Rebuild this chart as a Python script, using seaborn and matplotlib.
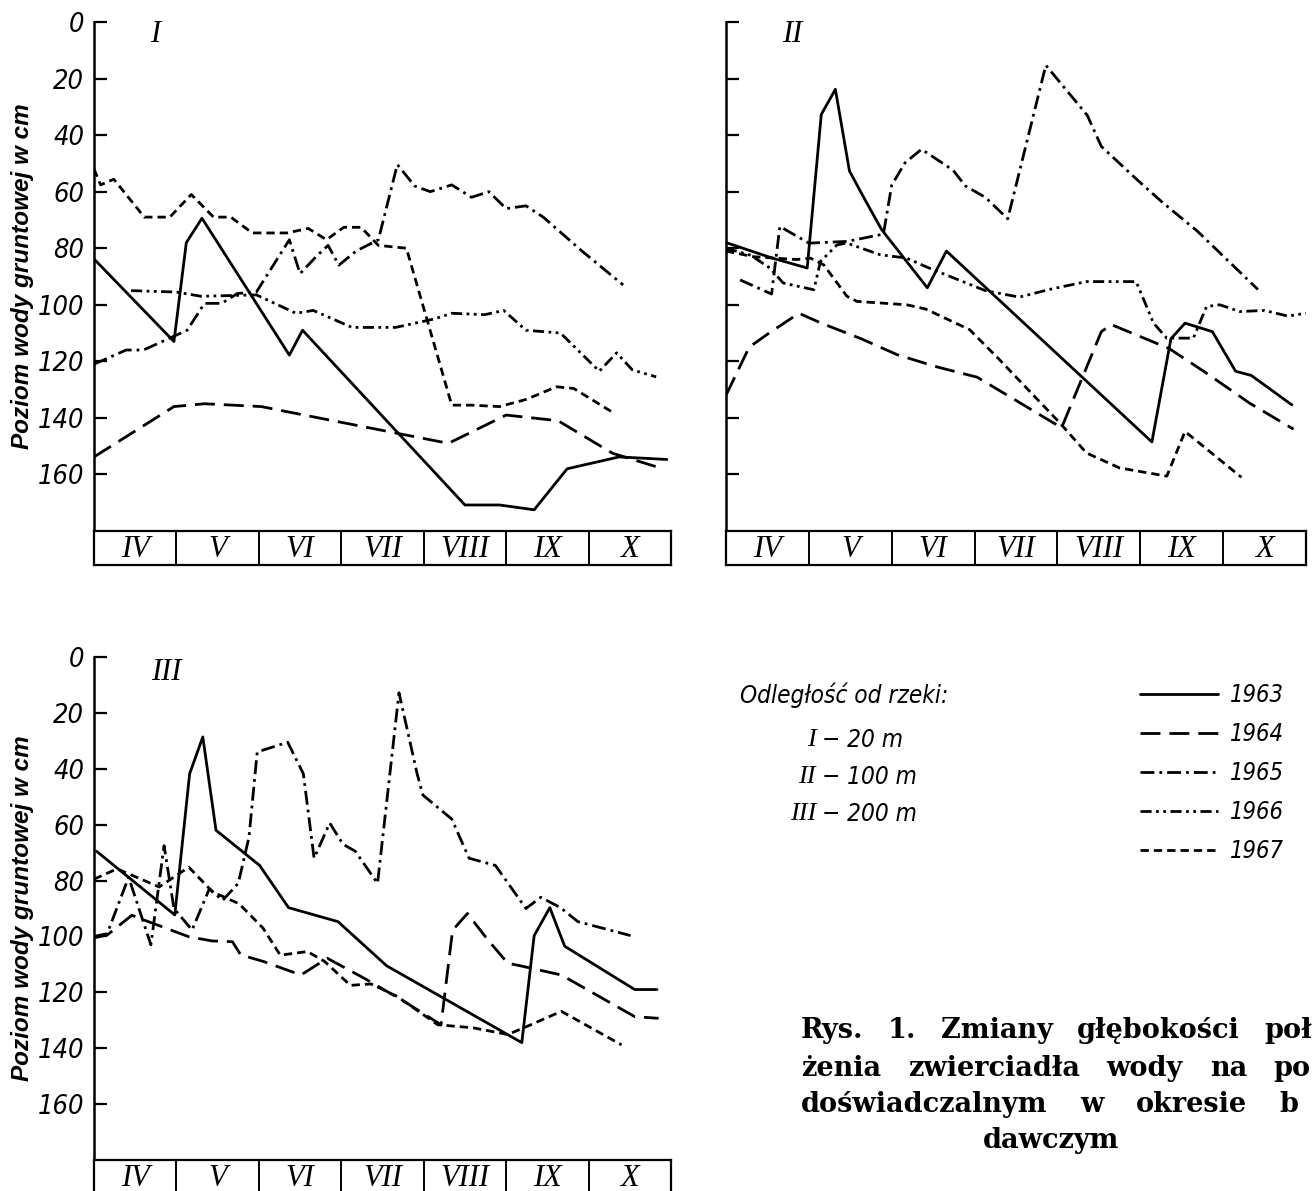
import numpy as np
import pandas as pd
import matplotlib.pyplot as plt
import seaborn as sns
from matplotlib import font_manager

# months on the strip under each panel, years in the legend
months = ["IV", "V", "VI", "VII", "VIII", "IX", "X"]
years = ["1963", "1964", "1965", "1966", "1967"]

# panel I (20 m from river); x = months since 1 April, depth in cm
x_I_1963 = [0, 0.97, 1.12, 1.31, 2.37, 2.53, 4.5, 4.92, 5.34, 5.74, 6.37, 6.95]
d_I_1963 = [83.8, 113, 78, 69.4, 117.8, 109, 170.8, 170.8, 172.5, 158, 153.8, 154.7]
x_I_1964 = [0, 0.97, 1.34, 2.03, 2.55, 3.6, 4.3, 5.0, 5.63, 6.29, 6.87]
d_I_1964 = [153.8, 136, 135, 136, 139, 145, 149, 139, 141, 152.5, 157.7]
x_I_1965 = [0, 0.39, 0.6, 1.13, 1.34, 1.55, 1.74, 1.97, 2.37, 2.5, 2.71, 2.84, 2.97,
            3.18, 3.45, 3.68, 3.89, 4.08, 4.34, 4.58, 4.79, 5.0, 5.24, 5.45, 5.92, 6.42]
d_I_1965 = [121, 116, 116, 109, 99.5, 99.5, 96, 95.5, 77, 89, 82.5, 79, 86,
            81, 77, 50.4, 58, 60, 57.6, 62, 60, 66, 65, 69, 81, 93]
x_I_1966 = [0.45, 1.0, 1.3, 1.97, 2.45, 2.66, 3.13, 3.66, 4.13, 4.34, 4.74, 4.97,
            5.24, 5.66, 6.13, 6.34, 6.53, 6.82]
d_I_1966 = [95, 95.5, 97, 96.5, 103, 102, 108, 108, 105, 103, 103.5, 102,
            109, 110, 123.5, 117, 123, 125.5]
x_I_1967 = [0, 0.08, 0.24, 0.61, 0.92, 1.18, 1.45, 1.66, 1.92, 2.34, 2.6, 2.82, 3.03,
            3.24, 3.45, 3.79, 4.34, 4.58, 4.92, 5.24, 5.61, 5.82, 6.29]
d_I_1967 = [52, 57.6, 55.6, 69, 69, 61, 69, 69, 74.6, 74.6, 73, 77, 72.6,
            72.6, 79, 80, 135.5, 135.5, 136, 133.5, 129, 129.6, 138]

# panel II (100 m)
x_II_1963 = [0, 0.56, 0.98, 1.15, 1.32, 1.49, 1.68, 1.88, 2.43, 2.66, 5.14, 5.37,
             5.54, 5.87, 6.15, 6.34, 6.83]
d_II_1963 = [78, 83.5, 87, 32.7, 23.8, 52.7, 63, 73.5, 94, 81, 148.5, 112,
             106.5, 109.5, 123.5, 125, 135.4]
x_II_1964 = [0, 0.28, 0.52, 0.88, 1.15, 1.63, 2.07, 2.55, 3.03, 3.51, 4.05, 4.53,
             4.65, 5.35, 5.79, 6.32, 6.85]
d_II_1964 = [132, 115, 110, 103, 106.5, 112, 117.7, 122, 125.6, 134, 143.5, 109.5,
             107, 115.5, 124, 134.8, 144]
x_II_1965 = [0.17, 0.55, 0.65, 1.0, 1.46, 1.9, 2.0, 2.16, 2.36, 2.74, 2.89, 3.13,
             3.4, 3.86, 4.36, 4.53, 4.97, 5.26, 5.69, 6.42]
d_II_1965 = [91.2, 96.2, 72.3, 78.2, 77.6, 75, 57.7, 49.8, 45, 52.4, 58, 62,
             69.6, 15.3, 33, 44, 56, 63.6, 74, 94.6]
x_II_1966 = [0, 0.3, 0.53, 0.69, 1.06, 1.14, 1.34, 1.46, 1.86, 2.18, 2.45, 3.13,
             3.54, 3.9, 4.35, 4.95, 5.16, 5.32, 5.64, 5.8, 5.96, 6.2, 6.5, 6.78, 7.0]
d_II_1966 = [80, 82.5, 87, 92.3, 94.7, 84.7, 78.8, 78.2, 82.3, 83.5, 87, 95,
             97.3, 94.6, 91.8, 91.8, 106.5, 111.8, 111.8, 100.6, 100, 102.4, 102, 104, 103]
x_II_1967 = [0, 0.33, 0.85, 1.02, 1.18, 1.46, 1.58, 2.18, 2.41, 2.94, 3.3, 4.03,
             4.35, 4.75, 5.32, 5.54, 6.22]
d_II_1967 = [81, 83, 84, 83.5, 85.9, 97, 98.8, 100, 101.5, 108.8, 119.4, 141.8,
             152.4, 157.7, 160.6, 144.8, 161]

# panel III (200 m) - no 1966 line drawn
x_III_1963 = [0.03, 0.98, 1.16, 1.32, 1.48, 2.01, 2.36, 2.96, 3.55, 5.19, 5.34,
              5.53, 5.71, 6.56, 6.83]
d_III_1963 = [69.5, 92.3, 41.8, 28.6, 62, 74.6, 89.7, 94.7, 110.5, 138, 99.7,
              89.7, 103.5, 119, 119]
x_III_1964 = [0, 0.16, 0.46, 0.56, 1.15, 1.43, 1.68, 1.78, 2.06, 2.51, 2.83, 3.28,
              3.76, 4.21, 4.35, 4.53, 4.78, 5.02, 5.14, 5.67, 6.56, 6.85]
d_III_1964 = [100.5, 99.5, 92.4, 93.6, 100.1, 101.6, 101.9, 106.6, 109, 113.8, 107.8, 115,
              123.2, 131.6, 97.8, 91.8, 101.3, 109.6, 110.3, 113.8, 128.7, 129.3]
x_III_1965 = [0, 0.16, 0.42, 0.69, 0.85, 0.97, 1.19, 1.4, 1.56, 1.75, 1.88, 1.98,
              2.35, 2.54, 2.67, 2.86, 3.02, 3.17, 3.44, 3.7, 3.92, 3.99, 4.34,
              4.55, 4.87, 5.24, 5.42, 5.66, 5.87, 6.51]
d_III_1965 = [100, 99, 78.8, 103, 67.5, 90, 97.7, 82.9, 87.1, 81, 64.5, 34,
              30.5, 41.8, 72, 59.4, 67, 69.5, 81, 12.8, 41.8, 49.4, 58,
              72, 74.6, 90, 86, 89.7, 94.7, 99.7]
x_III_1967 = [0, 0.28, 0.79, 1.15, 1.44, 1.76, 2.05, 2.26, 2.59, 2.8, 3.11, 3.36,
              3.68, 4.17, 4.6, 5.02, 5.26, 5.67, 6.4]
d_III_1967 = [79.5, 75.8, 82.3, 75.2, 84.1, 88.3, 97, 106.7, 105.4, 109, 117.5, 117,
              121.5, 131.6, 132.7, 135.1, 132.1, 126.8, 138.8]

series = {
    "I": {"1963": (x_I_1963, d_I_1963), "1964": (x_I_1964, d_I_1964),
          "1965": (x_I_1965, d_I_1965), "1966": (x_I_1966, d_I_1966),
          "1967": (x_I_1967, d_I_1967)},
    "II": {"1963": (x_II_1963, d_II_1963), "1964": (x_II_1964, d_II_1964),
           "1965": (x_II_1965, d_II_1965), "1966": (x_II_1966, d_II_1966),
           "1967": (x_II_1967, d_II_1967)},
    "III": {"1963": (x_III_1963, d_III_1963), "1964": (x_III_1964, d_III_1964),
            "1965": (x_III_1965, d_III_1965), "1967": (x_III_1967, d_III_1967)},
}

rows = []
for panel, by_year in series.items():
    for year, (xs, ds) in by_year.items():
        for x, d in zip(xs, ds):
            rows.append((panel, year, x, d))
df = pd.DataFrame(rows, columns=["panel", "year", "month", "depth"])

dash_map = {"1963": "", "1964": (7.2, 3.2), "1965": (5, 1.8, 1, 1.8),
            "1966": (4, 1.6, 1, 1.6, 1, 1.6), "1967": (3, 1.8)}

sns.set_theme(style="white")
plt.rcParams.update({"text.color": "black", "axes.labelcolor": "black",
                     "xtick.color": "black", "ytick.color": "black",
                     "axes.edgecolor": "black"})
names = {f.name for f in font_manager.fontManager.ttflist}
if "Liberation Sans Narrow" in names:
    narrow = dict(family="Liberation Sans Narrow", style="italic")
else:
    narrow = dict(family="DejaVu Sans", style="italic", stretch="condensed")
serif_it = dict(family="Liberation Serif", style="italic")

W, H = 1314, 1191
fig = plt.figure(figsize=(W / 100, H / 100), dpi=100)
fig.patch.set_facecolor("white")


def px(x0, y0, x1, y1):
    # pixel box -> figure fraction rect
    return [x0 / W, 1 - y1 / H, (x1 - x0) / W, (y1 - y0) / H]


layout = {"I": (94, 22, 671, 531), "II": (726, 22, 1306, 531), "III": (94, 657, 671, 1160)}
label_pos = {"I": (155, 34), "II": (792, 34), "III": (166, 672)}

axes = {}
for panel, (x0, y0, x1, y1) in layout.items():
    ax = fig.add_axes(px(x0, y0, x1, y1))
    sub = df[df["panel"] == panel]
    sns.lineplot(data=sub, x="month", y="depth", style="year", style_order=years,
                 dashes=dash_map, color="black", lw=2.0, estimator=None, sort=False,
                 legend=(panel == "I"), ax=ax)
    ax.set_xlim(0, 7)
    ax.set_ylim(180, 0)
    ax.set_yticks(np.arange(0, 161, 20))
    ax.set_xticks([])
    ax.set_xlabel("")
    ax.set_ylabel("")
    for s in ["top", "right", "bottom"]:
        ax.spines[s].set_visible(False)
    ax.spines["left"].set_linewidth(1.8)
    ax.tick_params(axis="y", left=True, direction="in", length=9, width=1.6,
                   pad=7, labelleft=(panel != "II"))
    for t in ax.get_yticklabels():
        t.set_fontproperties(font_manager.FontProperties(size=19.5, **narrow))
    ax.patch.set_alpha(0)
    axes[panel] = ax

    # month strip
    sx = fig.add_axes(px(x0, y1, x1, y1 + 34))
    sx.set_xlim(0, 7)
    sx.set_ylim(0, 1)
    sx.set_xticks([])
    sx.set_yticks([])
    for s in sx.spines.values():
        s.set_linewidth(1.6)
    for i in range(1, 7):
        sx.axvline(i, color="black", lw=1.4)
    for i, m in enumerate(months):
        sx.text(i + 0.5, 0.45, m, ha="center", va="center", fontsize=22, **serif_it)

    lx, ly = label_pos[panel]
    fig.text(lx / W, 1 - ly / H, panel, ha="center", va="center", fontsize=22, **serif_it)

for panel in ["I", "III"]:
    x0, y0, x1, y1 = layout[panel]
    fig.text(23 / W, 1 - (y0 + y1) / 2 / H, "Poziom wody gruntowej w cm", rotation=90,
             ha="center", va="center", fontsize=17.5, fontweight="bold",
             family="Liberation Sans", style="italic")

# legend for the years
sns.move_legend(axes["I"], "upper left", bbox_to_anchor=(1140 / W, 1 - 683 / H),
                bbox_transform=fig.transFigure, title=None, frameon=False,
                borderpad=0, borderaxespad=0, handlelength=3.3, handletextpad=0.5,
                labelspacing=0.64, prop=font_manager.FontProperties(size=17, **narrow))
for line in axes["I"].get_legend().get_lines():
    line.set_linewidth(2.0)

# distance key
fig.text(740 / W, 1 - 695 / H, "Odległość od rzeki:", ha="left", va="center",
         fontsize=17.5, **narrow)
for num, rest, y in [("I", "− 20 m", 740), ("II", "− 100 m", 777), ("III", "− 200 m", 814)]:
    fig.text(816 / W, 1 - y / H, num, ha="right", va="center", fontsize=19, **serif_it)
    fig.text(822 / W, 1 - y / H, rest, ha="left", va="center", fontsize=17.5, **narrow)

# caption: justified lines, the scan cuts the last word of each line
caption = [
    (1031, 1312, ["Rys.", "1.", "Zmiany", "głębokości", "poł"]),
    (1069, 1311, ["żenia", "zwierciadła", "wody", "na", "po"]),
    (1105, 1298, ["doświadczalnym", "w", "okresie", "b"]),
]
cap_font = dict(fontsize=19.5, fontweight="bold", family="DejaVu Serif")
renderer = fig.canvas.get_renderer()
for y, right, words in caption:
    texts = [fig.text(0, 1 - y / H, w, ha="left", va="center", **cap_font) for w in words]
    widths = [t.get_window_extent(renderer).width for t in texts]
    gap = (right - 801 - sum(widths)) / (len(words) - 1)
    x = 801
    for t, wdt in zip(texts, widths):
        t.set_x(x / W)
        x += wdt + gap
fig.text(1051 / W, 1 - 1140 / H, "dawczym", ha="center", va="center", **cap_font)

fig.savefig("out.png", dpi=100, facecolor="white")
